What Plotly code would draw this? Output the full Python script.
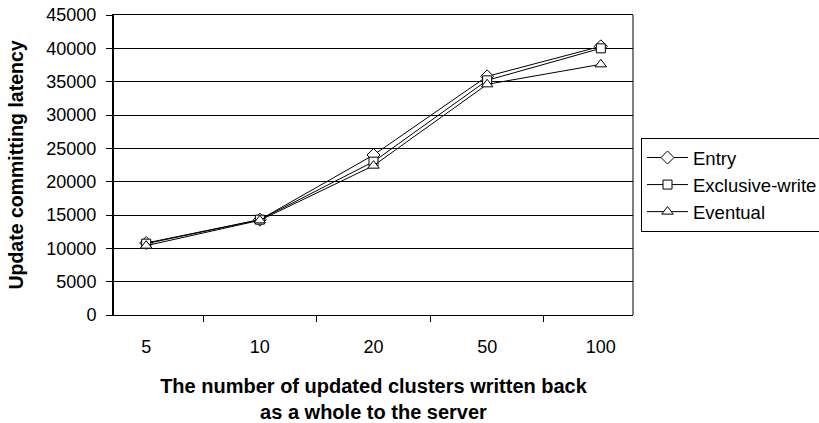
import plotly.graph_objects as go

categories = ['5', '10', '20', '50', '100']
entry = [10800, 14300, 24000, 35800, 40300]
exclusive_write = [10700, 14300, 23000, 35200, 40000]
eventual = [10400, 14200, 22400, 34600, 37600]

series = [
    ("Entry", entry, "diamond", 10),
    ("Exclusive-write", exclusive_write, "square", 9),
    ("Eventual", eventual, "triangle-up", 10),
]

FONT = "Liberation Sans, Arial, sans-serif"

fig = go.Figure()
for name, vals, sym, sz in series:
    fig.add_trace(go.Scatter(
        x=categories, y=vals, name=name, mode="lines+markers",
        legendgroup=name,
        line=dict(color="black", width=1),
        marker=dict(symbol=sym, size=sz, color="white",
                    line=dict(color="black", width=1)),
    ))

fig.update_layout(
    width=819, height=423,
    margin=dict(l=114, r=186, t=15, b=108, autoexpand=False),
    paper_bgcolor="white", plot_bgcolor="white",
    font=dict(family=FONT, size=18, color="black"),
    showlegend=True,
    legend=dict(
        x=(641 - 114) / 519, y=(315 - 138) / 300,
        xanchor="left", yanchor="top",
        bordercolor="black", borderwidth=1,
        font=dict(family=FONT, size=18.5, color="black"),
        tracegroupgap=0,
        itemwidth=41,
        bgcolor="white",
    ),
    xaxis=dict(
        type="category", categoryorder="array", categoryarray=categories,
        tickson="boundaries", ticks="outside", ticklen=6, tickcolor="black",
        showline=True, linecolor="black", linewidth=1, mirror=True,
        showgrid=False, zeroline=False, automargin=False,
        ticklabelstandoff=15,
        title=dict(text="The number of updated clusters written back<br>as a whole to the server",
                   font=dict(family=FONT, size=20, weight="bold"), standoff=27),
    ),
    yaxis=dict(
        range=[0, 45000], dtick=5000, tick0=0, tickformat="d",
        ticks="outside", ticklen=6, tickcolor="black",
        showline=True, linecolor="black", linewidth=2,
        showgrid=True, gridcolor="black", gridwidth=1, zeroline=False,
        automargin=False,
        ticklabelstandoff=6,
        title=dict(text="Update committing latency",
                   font=dict(family=FONT, size=19.5, weight="bold"), standoff=18),
    ),
    shapes=[dict(type="line", xref="paper", yref="paper", x0=1, x1=1, y0=0, y1=1,
                 line=dict(color="black", width=1))],
)

fig.write_html("out.html")
